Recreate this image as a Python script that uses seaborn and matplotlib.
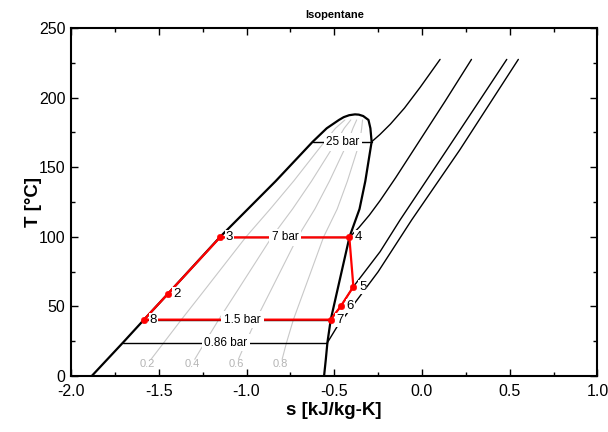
import numpy as np
import seaborn as sns
import matplotlib.pyplot as plt
from matplotlib.ticker import MultipleLocator

# saturation dome (T in C, s in kJ/kg-K)
T_sat = [0, 12, 24, 40.5, 60, 100, 120, 140, 168.3, 178, 184]
s_liq = [-1.882, -1.793, -1.704, -1.584, -1.441, -1.150, -0.992, -0.834, -0.623, -0.543, -0.473]
s_vap = [-0.558, -0.548, -0.539, -0.520, -0.485, -0.413, -0.356, -0.323, -0.287, -0.294, -0.305]
# rounded top of the dome, liquid side -> vapour side
T_top = [186.0, 187.4, 188.0, 187.8, 186.8]
s_top = [-0.446, -0.415, -0.382, -0.360, -0.335]

qualities = [0.2, 0.4, 0.6, 0.8]

# superheated parts of the isobars
p25_s = [-0.287, -0.240, -0.180, -0.100, -0.010, 0.103]
p25_T = [168.3, 173.5, 181.0, 192.5, 207.5, 227.5]
p7_s = [-0.414, -0.360, -0.300, -0.239, -0.150, -0.050, 0.131, 0.282]
p7_T = [99.6, 106.6, 115.6, 126.0, 142.5, 162.0, 197.3, 227.5]
p15_s = [-0.520, -0.461, -0.391, -0.239, -0.125, 0.141, 0.330, 0.483]
p15_T = [40.5, 50.5, 64.2, 89.3, 112.1, 162.4, 198.3, 227.5]
p086_s = [-0.539, -0.484, -0.250, -0.059, 0.215, 0.549]
p086_T = [24.0, 35.4, 74.9, 112.1, 162.4, 227.5]

# cycle states
cyc_labels = ["8", "2", "3", "4", "5", "6", "7"]
cyc_s = [-1.584, -1.449, -1.151, -0.414, -0.391, -0.461, -0.520]
cyc_T = [40.5, 58.9, 99.6, 99.6, 64.2, 50.5, 40.5]

sns.set_theme(style="ticks")
plt.rcParams["font.family"] = ["Liberation Sans", "DejaVu Sans"]
plt.rcParams["axes.unicode_minus"] = False
for k in ["text.color", "axes.labelcolor", "xtick.color", "ytick.color"]:
    plt.rcParams[k] = "black"

fig, ax = plt.subplots(figsize=(6.08, 4.32), dpi=100)
fig.subplots_adjust(left=0.1168, right=0.9827, top=0.935, bottom=0.1296)


def line(s, T, **kw):
    sns.lineplot(x=s, y=T, sort=False, estimator=None, ax=ax, legend=False, **kw)


# quality lines
for q in qualities:
    qs = [l + q * (v - l) for l, v in zip(s_liq[1:], s_vap[1:])]
    line(qs, T_sat[1:], color="#c8c8c8", lw=0.8)
    sl, sv = np.interp(8.5, T_sat, s_liq), np.interp(8.5, T_sat, s_vap)
    ax.text(sl + q * (sv - sl), 8.5, f"{q:.1f}", color="#b4b4b4", fontsize=8,
            ha="center", va="center")

# dome
dome_s = s_liq + s_top + s_vap[::-1]
dome_T = T_sat + T_top + T_sat[::-1]
line(dome_s, dome_T, color="black", lw=1.6)

# isobars: horizontal part in the dome + superheated part
for ps, pT, name, s_lab in [(p25_s, p25_T, "25 bar", -0.45),
                            (p7_s, p7_T, "7 bar", -0.781),
                            (p15_s, p15_T, "1.5 bar", -1.022),
                            (p086_s, p086_T, "0.86 bar", -1.117)]:
    Ts = pT[0]
    line([np.interp(Ts, T_sat, s_liq), ps[0]], [Ts, Ts], color="black", lw=1.0)
    line(ps, pT, color="black", lw=1.0)
    ax.text(s_lab, Ts, name, fontsize=8.5, ha="center", va="center", zorder=5,
            bbox=dict(facecolor="white", edgecolor="none", pad=2))

# cycle
line(cyc_s + [cyc_s[0]], cyc_T + [cyc_T[0]], color="red", lw=1.6, zorder=3)
sns.scatterplot(x=cyc_s, y=cyc_T, color="red", s=22, edgecolor="red", zorder=4, ax=ax)
for lab, s, T in zip(cyc_labels, cyc_s, cyc_T):
    ax.annotate(lab, (s, T), xytext=(4, 0), textcoords="offset points", fontsize=9.5,
                ha="left", va="center", zorder=5,
                bbox=dict(facecolor="white", edgecolor="none", pad=0.8))

ax.set_xlim(-2, 1)
ax.set_ylim(0, 250)
ax.xaxis.set_major_locator(MultipleLocator(0.5))
ax.xaxis.set_minor_locator(MultipleLocator(0.25))
ax.yaxis.set_major_locator(MultipleLocator(50))
ax.yaxis.set_minor_locator(MultipleLocator(25))
ax.tick_params(which="both", direction="in", top=True, right=True, color="black")
ax.tick_params(which="major", length=5, width=1, labelsize=11.5)
ax.tick_params(axis="x", which="major", pad=6)
ax.tick_params(axis="y", which="major", pad=4)
ax.tick_params(which="minor", length=3, width=1)
for sp in ax.spines.values():
    sp.set_linewidth(1.5)
    sp.set_color("black")

ax.set_xlabel("s [kJ/kg-K]", fontsize=13.5, fontweight="bold")
ax.set_ylabel("T [°C]", fontsize=13.5, fontweight="bold")
ax.yaxis.set_label_coords(-0.056, 0.5)
ax.xaxis.set_label_coords(0.5, -0.075)
ax.set_title("Isopentane", fontsize=8, fontweight="bold", pad=7)

fig.savefig("out.png", dpi=100)
